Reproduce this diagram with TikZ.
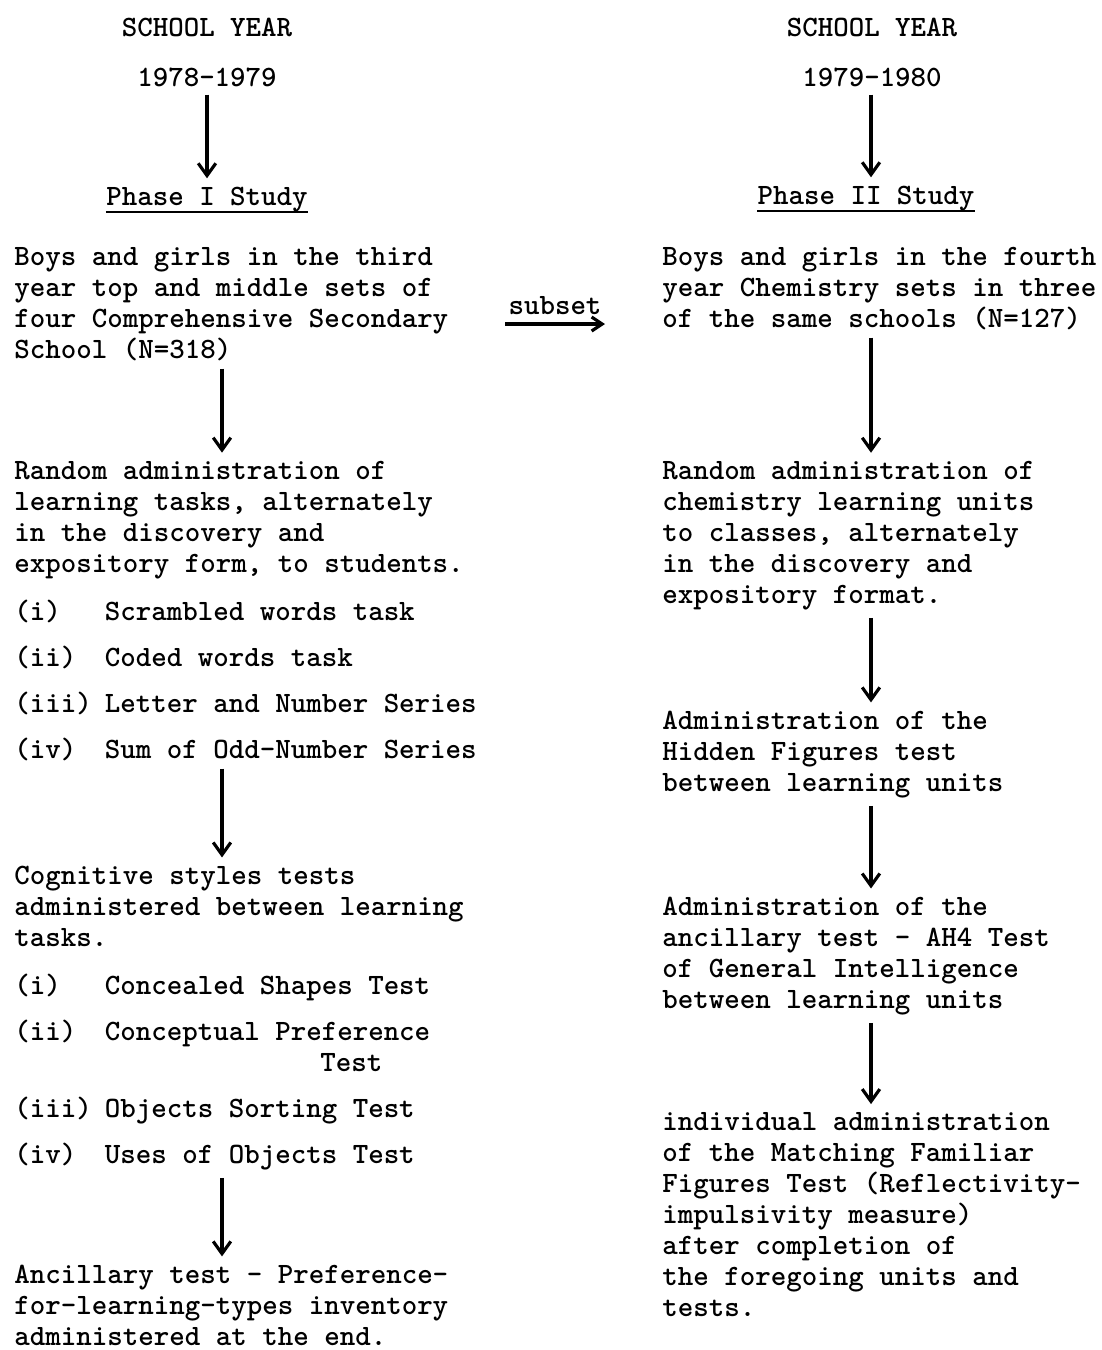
\documentclass[tikz,border=0pt]{standalone}
\usetikzlibrary{arrows.meta}

\newcommand\tyfont{\fontsize{16.8}{17.6}\selectfont\ttfamily\bfseries}
\newcommand\itm[1]{\makebox[1.81cm][l]{#1}}

\tikzset{
  hd/.style={font=\tyfont, inner xsep=0pt, inner ysep=0.16cm, anchor=base},
  blk/.style={font=\tyfont, align=left, inner xsep=0pt, inner ysep=0.16cm, anchor=base west},
  flow/.style={line width=1.8pt, -{Straight Barb[length=7pt,width=10pt]}},
  uline/.style={line width=1.1pt}
}

\begin{document}
\begin{tikzpicture}[x=0.02cm, y=-0.02cm]
        \useasboundingbox (0,0) rectangle (1102,1350);

        % Headings of the two years
        \node[hd] (yr1) at (207,36) {SCHOOL YEAR};
        \node[hd] (dt1) at (207,86) {1978-1979};
        \node[hd] (ph1) at (207,205) {Phase I Study};
        \node[hd] (yr2) at (872,36) {SCHOOL YEAR};
        \node[hd] (dt2) at (872,86) {1979-1980};
        \node[hd] (ph2) at (866,204) {Phase II Study};
        \draw[uline] ([yshift=-0.14cm]ph1.base west) -- ([yshift=-0.14cm]ph1.base east);
        \draw[uline] ([yshift=-0.14cm]ph2.base west) -- ([yshift=-0.14cm]ph2.base east);

        % Phase I column (nodes placed by their last line)
        \node[blk] (b1) at (14,358) {Boys and girls in the third\\year top and middle sets of\\four Comprehensive Secondary\\School (N=318)};
        \node[blk] (b2) at (14,572) {Random administration of\\learning tasks, alternately\\in the discovery and\\expository form, to students.};
        \node[blk] (l1) at (14,758) {\itm{(i)}Scrambled words task\\[0.3cm]
            \itm{(ii)}Coded words task\\[0.3cm]
            \itm{(iii)}Letter and Number Series\\[0.3cm]
            \itm{(iv)}Sum of Odd-Number Series};
        \node[blk] (b3) at (14,946) {Cognitive styles tests\\administered between learning\\tasks.};
        \node[blk] (l2) at (14,1163) {\itm{(i)}Concealed Shapes Test\\[0.3cm]
            \itm{(ii)}Conceptual Preference\\
            \hspace*{6.12cm}Test\\[0.3cm]
            \itm{(iii)}Objects Sorting Test\\[0.3cm]
            \itm{(iv)}Uses of Objects Test};
        \node[blk] (b4) at (14,1345) {Ancillary test - Preference-\\for-learning-types inventory\\administered at the end.};

        % Phase II column
        \node[blk] (b5) at (662,327) {Boys and girls in the fourth\\year Chemistry sets in three\\of the same schools (N=127)};
        \node[blk] (b6) at (662,603) {Random administration of\\chemistry learning units\\to classes, alternately\\in the discovery and\\expository format.};
        \node[blk] (b7) at (662,791) {Administration of the\\Hidden Figures test\\between learning units};
        \node[blk] (b8) at (662,1008) {Administration of the\\ancillary test - AH4 Test\\of General Intelligence\\between learning units};
        \node[blk] (b9) at (662,1316) {individual administration\\of the Matching Familiar\\Figures Test (Reflectivity-\\impulsivity measure)\\after completion of\\the foregoing units and\\tests.};

        % Arrows
        \coordinate (lx) at (222,0);
        \coordinate (rx) at (871,0);
        \draw[flow] (dt1) -- (ph1);
        \draw[flow] (dt2.south -| rx) -- (rx |- ph2.north);
        \foreach \a/\b in {b1/b2, l1/b3, l2/b4} {
            \draw[flow] (lx |- \a.south) -- (lx |- \b.north);
        }
        \foreach \a/\b in {b5/b6, b6/b7, b7/b8, b8/b9} {
            \draw[flow] (rx |- \a.south) -- (rx |- \b.north);
        }

        % subset link
        \coordinate (s0) at (505,324);
        \coordinate (s1) at (605,324);
        \draw[flow, -{Straight Barb[length=6pt,width=8pt]}] (s0) -- (s1) node[midway, above, font=\tyfont, inner sep=0.16cm] (sub) {subset};
    \end{tikzpicture}
\end{document}
